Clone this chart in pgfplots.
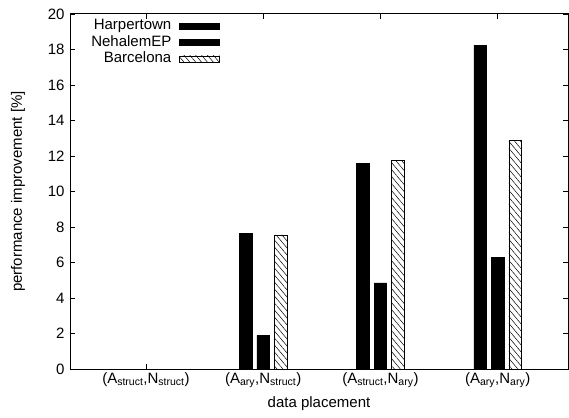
\documentclass[border=0pt]{standalone}
\usepackage{pgfplots}
\pgfplotsset{compat=1.18}
\usepackage{fontspec}
\setmainfont{Liberation Sans}
\usetikzlibrary{patterns.meta}

\begin{document}
\begin{tikzpicture}[x=1pt,y=1pt,font=\fontsize{15pt}{17pt}\selectfont]
% keep the page the size of the reference
\path (-70,-48) rectangle (499,369);
\begin{axis}[
    at={(0,0)}, anchor=south west,
    scale only axis,
    width=498pt, height=355pt,
    ybar=5pt, bar width=12.5pt,
    xmin=-0.648, xmax=3.6,
    ymin=0, ymax=20,
    ytick={0,2,...,20},
    xtick=data,
    xticklabels={{(A\textsubscript{struct},N\textsubscript{struct})},
                 {(A\textsubscript{ary},N\textsubscript{struct})},
                 {(A\textsubscript{struct},N\textsubscript{ary})},
                 {(A\textsubscript{ary},N\textsubscript{ary})}},
    tick align=inside,
    major tick length=5pt,
    tick style={black, line width=0.8pt},
    axis line style={line width=1pt},
    tick label style={font=\fontsize{15pt}{17pt}\selectfont},
    label style={font=\fontsize{15pt}{17pt}\selectfont},
    yticklabel style={xshift=-2pt},
    /pgf/number format/assume math mode=true,
    xlabel={data placement},
    ylabel={performance improvement [\%]},
    xlabel style={at={(rel axis cs:0.5,0)}, anchor=center, yshift=-35pt},
    ylabel style={at={(rel axis cs:0,0.5)}, anchor=center, yshift=52pt},
    legend style={draw=none, fill=none, at={(rel axis cs:0.301,0.99)}, anchor=north east,
        inner sep=0pt, row sep=0pt, column sep=7pt,
        nodes={inner sep=1pt, text height=11pt, text depth=3.5pt},
        font=\fontsize{15pt}{15pt}\selectfont},
    legend cell align=right,
    legend plot pos=right,
    legend image code/.code={\draw[#1] (0pt,-3pt) rectangle (40pt,3pt);},
]
\addplot[draw=black, fill=black] coordinates {(0,0) (1,7.65) (2,11.6) (3,18.25)};
\addlegendentry{Harpertown}
\addplot[draw=black, fill=black] coordinates {(0,0) (1,1.9) (2,4.85) (3,6.3)};
\addlegendentry{NehalemEP}
\addplot[draw=black, fill=white, postaction={pattern={Lines[angle=-50, distance=4.5pt, line width=0.5pt]}}]
    coordinates {(0,0) (1,7.55) (2,11.75) (3,12.9)};
\addlegendentry{Barcelona}
\end{axis}
\end{tikzpicture}
\end{document}
